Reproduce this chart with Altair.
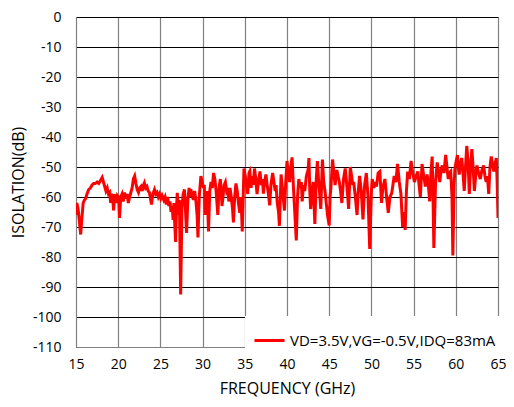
import altair as alt
import pandas as pd

freq = [15.0, 15.1, 15.25, 15.4, 15.55, 15.7, 15.85, 16.0, 16.15, 16.3, 16.5, 16.7, 16.9, 17.1, 17.3, 17.5, 17.7, 17.9,
        18.1, 18.25, 18.4, 18.55, 18.7, 18.85, 19.0, 19.1, 19.2, 19.35, 19.45, 19.6, 19.75, 19.9, 20.05, 20.15, 20.3,
        20.45, 20.6, 20.75, 20.9, 21.05, 21.2, 21.35, 21.5, 21.65, 21.8, 21.95, 22.1, 22.25, 22.4, 22.55, 22.7, 22.85,
        23.0, 23.1, 23.25, 23.4, 23.55, 23.7, 23.85, 23.95, 24.1, 24.3, 24.45, 24.6, 24.75, 24.9, 25.05, 25.2, 25.4,
        25.55, 25.7, 25.85, 26.0, 26.15, 26.25, 26.4, 26.5, 26.6, 26.7, 26.8, 26.9, 27.0, 27.15, 27.25, 27.4, 27.55,
        27.7, 27.85, 27.95, 28.1, 28.25, 28.4, 28.5, 28.6, 28.75, 28.9, 29.05, 29.2, 29.35, 29.45, 29.6, 29.8, 29.95,
        30.1, 30.2, 30.3, 30.45, 30.55, 30.7, 30.85, 31.0, 31.15, 31.3, 31.45, 31.6, 31.8, 31.95, 32.1, 32.2, 32.3,
        32.45, 32.55, 32.7, 32.85, 33.0, 33.1, 33.25, 33.4, 33.55, 33.65, 33.8, 33.95, 34.1, 34.25, 34.4, 34.55, 34.7,
        34.9, 35.05, 35.2, 35.35, 35.5, 35.6, 35.75, 35.85, 36.0, 36.15, 36.3, 36.45, 36.6, 36.8, 36.95, 37.1, 37.2,
        37.35, 37.5, 37.65, 37.8, 37.95, 38.1, 38.3, 38.45, 38.6, 38.7, 38.85, 39.0, 39.1, 39.3, 39.45, 39.55, 39.7,
        39.85, 40.0, 40.15, 40.3, 40.45, 40.6, 40.75, 40.9, 41.1, 41.25, 41.4, 41.55, 41.7, 41.8, 41.95, 42.1, 42.3,
        42.5, 42.6, 42.7, 42.8, 42.95, 43.1, 43.2, 43.3, 43.45, 43.6, 43.75, 43.85, 44.0, 44.2, 44.35, 44.5, 44.6,
        44.8, 45.0, 45.1, 45.2, 45.4, 45.55, 45.7, 45.9, 46.05, 46.2, 46.35, 46.5, 46.7, 46.9, 47.05, 47.2, 47.3,
        47.5, 47.65, 47.8, 47.9, 48.1, 48.3, 48.45, 48.6, 48.8, 49.0, 49.2, 49.4, 49.6, 49.8, 50.0, 50.1, 50.3,
        50.45, 50.6, 50.8, 51.0, 51.2, 51.35, 51.6, 51.8, 52.0, 52.2, 52.4, 52.55, 52.7, 52.9, 53.1, 53.3, 53.5,
        53.7, 53.85, 54.0, 54.15, 54.3, 54.5, 54.7, 54.9, 55.1, 55.3, 55.5, 55.65, 55.8, 56.0, 56.2, 56.4, 56.6,
        56.75, 56.9, 57.05, 57.2, 57.3, 57.4, 57.6, 57.8, 57.95, 58.1, 58.25, 58.4, 58.6, 58.8, 58.95, 59.1, 59.25,
        59.4, 59.55, 59.65, 59.8, 59.9, 60.05, 60.2, 60.3, 60.4, 60.55, 60.7, 60.85, 61.0, 61.15, 61.3, 61.45, 61.6,
        61.75, 61.9, 62.05, 62.2, 62.35, 62.5, 62.7, 62.9, 63.1, 63.3, 63.45, 63.6, 63.75, 63.9, 64.05, 64.2, 64.35,
        64.5, 64.65, 64.8, 64.9, 65.0]

isolation = [-66, -62, -64, -68, -72.5, -67, -62, -61, -60.5, -59, -57.5, -57, -56, -55.5, -55.5, -55, -55.5, -54.5,
             -53.5, -55, -56.5, -58, -57, -59, -58.5, -62, -59, -60, -64.5, -59, -62, -59.5, -60, -67, -60,
             -59, -61.5, -58.5, -60.5, -59, -62, -60, -58.5, -57, -54, -53, -55.5, -57.5, -58.5, -57, -56.5, -58,
             -56, -55.3, -57, -56.5, -58, -58.5, -61, -62.5, -59, -57.5, -59, -58.5, -60, -59, -60.5, -59.5, -61,
             -60, -62.5, -60, -63, -61.5, -65, -63, -67.6, -62, -69, -75, -64, -58.6, -66, -61, -92.5, -63.8,
             -59, -57.5, -63, -72, -61, -57, -60, -57.5, -59, -61, -58, -61, -66, -73.5, -60, -53, -55,
             -57, -56, -66, -60, -58, -71.5, -58, -55, -57, -52, -54, -58, -66, -57, -54, -58, -63,
             -59, -56, -55, -58, -57, -61.5, -57, -60, -64, -68.5, -60, -55.5, -58, -62, -65.3, -60, -71.5,
             -50.5, -53, -56, -59, -52, -51.4, -57, -53, -56, -50.5, -54, -59, -55, -51.5, -56, -54, -58.9,
             -55, -52.5, -56, -59, -62.8, -56, -52, -55, -58, -56, -62, -65, -69.6, -52.5, -57, -60, -64.5,
             -55, -48, -52, -55, -50, -46.8, -56, -64, -74.5, -60, -54, -57, -55, -61.5, -56, -58, -53,
             -51, -47, -58, -64, -59, -55, -62, -69, -55, -48, -55, -58, -64, -47.5, -55, -58, -60.7,
             -66, -69.5, -60, -57, -47.5, -52, -56, -51, -53, -55, -58, -62, -54, -50.5, -55, -60, -64,
             -50, -53, -56, -55, -60, -66, -58, -53, -58, -67.5, -56, -52, -60, -77.3, -58, -54, -57,
             -55, -56.5, -52, -51.5, -62, -57, -54, -60, -65.3, -60, -58.8, -56, -53, -55, -49, -55, -59,
             -70, -65, -71, -58, -51.5, -54, -48, -52, -55, -53, -51.5, -56, -60, -49, -53, -56.5, -52.5,
             -56, -61.5, -52, -46.5, -60, -77, -55, -48.5, -52, -55, -51, -49.5, -52, -46, -50, -54, -52,
             -51.5, -60, -79.5, -56, -50.5, -48, -46, -50, -52.5, -49, -47, -52, -58, -50, -43, -48, -59,
             -50, -44, -50, -58, -53, -49.5, -52, -54, -51, -49.5, -53, -55, -53, -59, -50, -46.5, -49,
             -51.5, -49, -47, -55, -67]

series_name = "VD=3.5V,VG=-0.5V,IDQ=83mA"
x_ticks = [15, 20, 25, 30, 35, 40, 45, 50, 55, 60, 65]
y_ticks = [0, -10, -20, -30, -40, -50, -60, -70, -80, -90, -100, -110]

df = pd.DataFrame({"f": freq, "iso": isolation, "series": [series_name] * len(freq)})

FONT = "Open Sans"

chart = alt.Chart(df).mark_line(strokeWidth=3, clip=True).encode(
    x=alt.X("f:Q", scale=alt.Scale(domain=[15, 65], nice=False, zero=False),
            axis=alt.Axis(values=x_ticks, title="FREQUENCY (GHz)", grid=True, gridColor="#808080",
                          gridWidth=1.2, ticks=False, labelPadding=10, titlePadding=9,
                          domainColor="#808080", labelFlush=False, labelExpr="'' + datum.value")),
    y=alt.Y("iso:Q", scale=alt.Scale(domain=[-110, 0], nice=False, zero=False),
            axis=alt.Axis(values=y_ticks, title="ISOLATION(dB)", grid=True, gridColor="#000000",
                          gridWidth=1, ticks=False, labelPadding=15, titlePadding=6,
                          domainColor="#808080", labelFlush=False, labelExpr="'' + datum.value")),
    color=alt.Color("series:N", scale=alt.Scale(range=["#ff0000"]),
                    legend=alt.Legend(title=None, orient="none", legendX=169, legendY=299,
                                      fillColor="white", padding=8, symbolType="stroke",
                                      symbolStrokeWidth=3, symbolSize=900, labelFontSize=15,
                                      labelFont=FONT, labelColor="#000000", labelLimit=400,
                                      labelOffset=4)),
).properties(
    width=422, height=330, padding={"left": 68, "top": 9, "right": 8, "bottom": 52},
    autosize=alt.AutoSizeParams(type="none"),
).configure_view(stroke=None).configure_axis(
    labelFont=FONT, titleFont=FONT, labelFontSize=14, titleFontSize=16, labelColor="#000000",
    titleColor="#000000", titleFontWeight="normal"
)

chart.save("out.html", embed_options={"renderer": "svg", "actions": False})
